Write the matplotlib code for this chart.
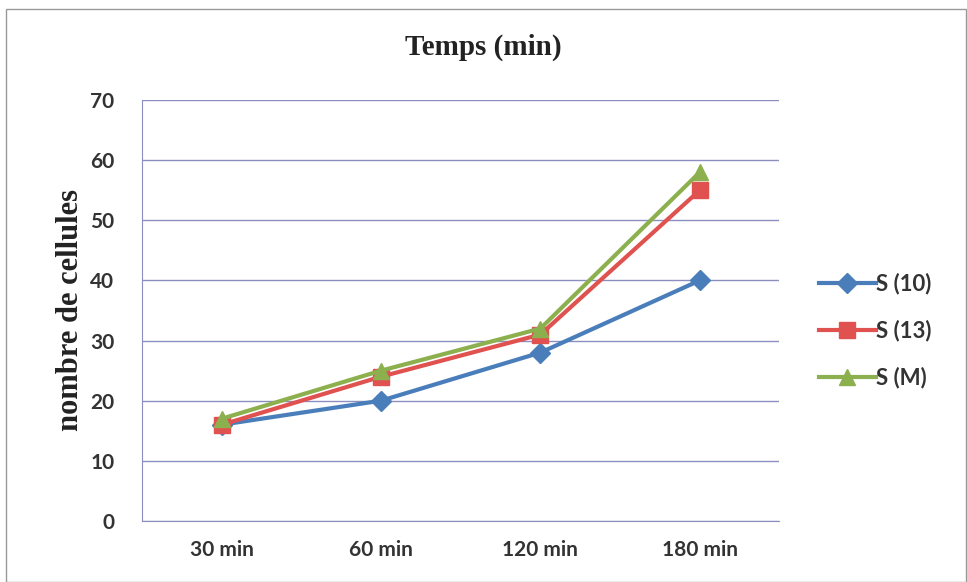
import matplotlib.pyplot as plt
from matplotlib.patches import Rectangle

# data
categories = ["30 min", "60 min", "120 min", "180 min"]
s10 = [16, 20, 28, 40]
s13 = [16, 24, 31, 55]
sm = [17, 25, 32, 58]
yticks = [0, 10, 20, 30, 40, 50, 60, 70]

fig = plt.figure(figsize=(9.67, 5.82), dpi=100)
ax = fig.add_axes([0.147, 0.105, 0.659, 0.723])

x = list(range(len(categories)))
ax.plot(x, s10, '-D', color="#4A7EBB", markersize=10, linewidth=3, label="S (10)", zorder=3)
ax.plot(x, s13, '-s', color="#E0524F", markersize=11, linewidth=3, label="S (13)", zorder=4)
ax.plot(x, sm, '-^', color="#8DB04F", markersize=12, linewidth=3, label="S (M)", zorder=5)

ax.set_xlim(-0.5, len(categories) - 0.5)
ax.set_ylim(0, 70)
ax.set_yticks(yticks)
ax.set_xticks(x)
ax.set_xticklabels(categories)
ax.tick_params(length=0, labelsize=15, colors="#333333")
ax.tick_params(axis="x", pad=14)
ax.tick_params(axis="y", pad=20)
for lab in ax.get_xticklabels() + ax.get_yticklabels():
    lab.set_fontfamily("Lato")
    lab.set_fontweight("bold")

ax.grid(True, axis="y", color="#8A8FC0", linewidth=1)
ax.set_axisbelow(True)
for side in ["top", "right"]:
    ax.spines[side].set_visible(False)
ax.spines["left"].set_color("#8A8FC0")
ax.spines["bottom"].set_color("#8A8FC0")

fig.text(0.5, 0.918, "Temps (min)", ha="center", va="center",
         fontsize=21, fontweight="bold", family="Liberation Serif", color="#222222")
ax.set_ylabel("nombre de cellules", fontsize=22, fontweight="bold",
              family="Liberation Serif", color="#222222", labelpad=4)

leg = ax.legend(loc="center left", bbox_to_anchor=(1.03, 0.452), frameon=False,
                handlelength=2.6, labelspacing=1.15, handletextpad=0.0,
                prop={"family": "Lato", "weight": "bold", "size": 16})
for t in leg.get_texts():
    t.set_color("#333333")

# outer chart border
fig.patches.append(Rectangle((0.006, 0.0), 0.993, 0.985, transform=fig.transFigure,
                             fill=False, edgecolor="#999999", linewidth=1))

fig.savefig("out.png", dpi=100)
